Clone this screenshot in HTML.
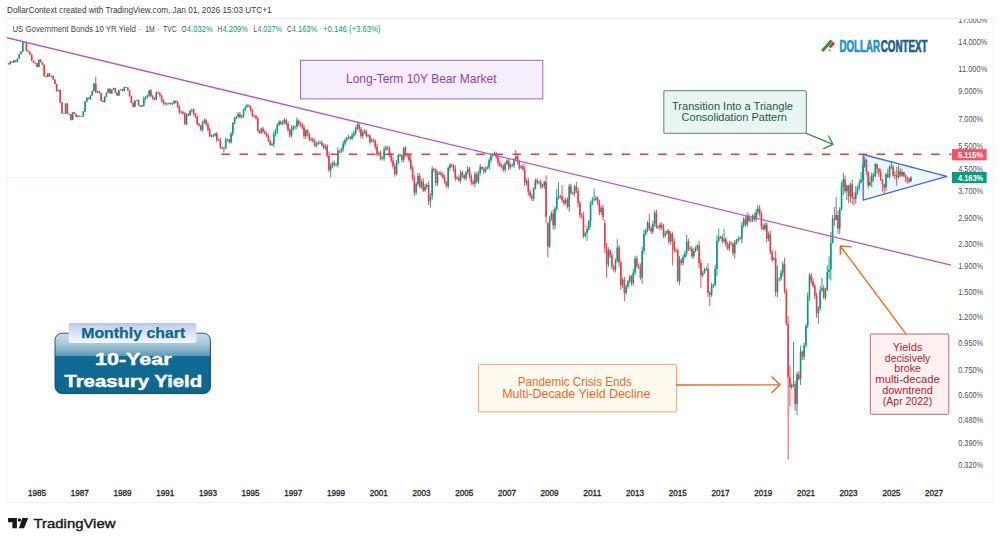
<!DOCTYPE html>
<html><head><meta charset="utf-8"><title>US 10Y Yield</title>
<style>html,body{margin:0;padding:0;background:#fff}svg{display:block}</style></head>
<body>
<svg width="1000" height="544" viewBox="0 0 1000 544" font-family="'Liberation Sans', sans-serif">
<defs>
<linearGradient id="gb" x1="0" y1="0" x2="0" y2="1">
<stop offset="0" stop-color="#c9dde6"/><stop offset="0.17" stop-color="#a9c9d8"/><stop offset="0.38" stop-color="#5e9ab6"/><stop offset="0.385" stop-color="#0f6b95"/><stop offset="1" stop-color="#0c6690"/>
</linearGradient>
<linearGradient id="gt" x1="0" y1="0" x2="0" y2="1">
<stop offset="0" stop-color="#b9c9e6"/><stop offset="0.55" stop-color="#dde6f4"/><stop offset="1" stop-color="#f4f7fc"/>
</linearGradient>
<clipPath id="cp"><rect x="7" y="19" width="986" height="483"/></clipPath>
</defs>
<rect width="1000" height="544" fill="#fff"/>
<rect x="6.5" y="18.5" width="987" height="484" fill="none" stroke="#eff0f3" stroke-width="1"/>
<text x="7" y="13.2" font-size="8.6" fill="#3a3a3a" font-weight="normal" text-anchor="start" textLength="264.5" lengthAdjust="spacingAndGlyphs">DollarContext created with TradingView.com, Jan 01, 2026 15:03 UTC+1</text>
<text x="12.4" y="31.6" font-size="8.3" fill="#45474d" font-weight="normal" text-anchor="start" textLength="123.5" lengthAdjust="spacingAndGlyphs">US Government Bonds 10 YR Yield</text>
<text x="138.3" y="31.6" font-size="8.3" fill="#45474d" font-weight="normal" text-anchor="start">·</text>
<text x="145.2" y="31.6" font-size="8.3" fill="#45474d" font-weight="normal" text-anchor="start" textLength="9.6" lengthAdjust="spacingAndGlyphs">1M</text>
<text x="157" y="31.6" font-size="8.3" fill="#45474d" font-weight="normal" text-anchor="start">·</text>
<text x="163" y="31.6" font-size="8.3" fill="#45474d" font-weight="normal" text-anchor="start" textLength="13.6" lengthAdjust="spacingAndGlyphs">TVC</text>
<text x="181.5" y="31.6" font-size="8.3" fill="#45474d" font-weight="normal" text-anchor="start" textLength="5" lengthAdjust="spacingAndGlyphs">O</text>
<text x="186.8" y="31.6" font-size="8.3" fill="#089981" font-weight="normal" text-anchor="start" textLength="26" lengthAdjust="spacingAndGlyphs">4.032%</text>
<text x="217.6" y="31.6" font-size="8.3" fill="#45474d" font-weight="normal" text-anchor="start" textLength="4.6" lengthAdjust="spacingAndGlyphs">H</text>
<text x="222.4" y="31.6" font-size="8.3" fill="#089981" font-weight="normal" text-anchor="start" textLength="25.6" lengthAdjust="spacingAndGlyphs">4.209%</text>
<text x="253.5" y="31.6" font-size="8.3" fill="#45474d" font-weight="normal" text-anchor="start" textLength="3.6" lengthAdjust="spacingAndGlyphs">L</text>
<text x="257.2" y="31.6" font-size="8.3" fill="#089981" font-weight="normal" text-anchor="start" textLength="24.9" lengthAdjust="spacingAndGlyphs">4.027%</text>
<text x="287" y="31.6" font-size="8.3" fill="#45474d" font-weight="normal" text-anchor="start" textLength="4.6" lengthAdjust="spacingAndGlyphs">C</text>
<text x="291.8" y="31.6" font-size="8.3" fill="#089981" font-weight="normal" text-anchor="start" textLength="25.3" lengthAdjust="spacingAndGlyphs">4.163%</text>
<text x="323" y="31.6" font-size="8.3" fill="#089981" font-weight="normal" text-anchor="start" textLength="57.4" lengthAdjust="spacingAndGlyphs">+0.146 (+3.63%)</text>
<g clip-path="url(#cp)">
<line x1="7" x2="951" y1="177.5" y2="177.5" stroke="#089981" stroke-opacity="0.3" stroke-width="0.5" stroke-dasharray="1 1"/>
<path d="M863.2 154.5L863.2 200.2L946.8 176.3Z" fill="#e6f5fa" fill-opacity="0.8" stroke="#3f6de8" stroke-width="1.35" stroke-linejoin="round"/>
<path d="M10.35 61.32V64.52M13.91 60.18V62.61M17.47 58.21V62.33M19.25 53.81V58.91M21.03 51.15V54.34M22.81 41.68V51.70M38.83 59.28V67.25M47.73 73.13V77.42M51.29 75.50V76.54M58.41 89.79V91.31M65.53 103.32V113.71M72.65 111.89V120.29M77.99 115.45V117.32M81.55 115.92V116.78M83.32 111.12V116.80M85.10 100.77V112.01M86.88 97.33V101.63M90.44 95.04V99.63M92.22 90.72V95.68M94.00 83.26V91.65M97.56 90.91V93.01M104.68 96.37V102.61M106.46 92.36V97.05M108.24 88.30V92.93M111.80 89.20V93.70M113.58 87.79V89.95M118.92 89.91V95.94M120.70 89.19V90.59M124.26 86.81V91.32M134.94 100.21V107.28M136.72 99.65V100.95M142.06 104.81V106.81M143.84 96.10V106.93M145.62 96.20V100.05M147.40 94.44V98.51M149.18 89.52V96.72M156.30 91.44V100.41M166.98 102.76V105.46M168.76 102.53V104.68M172.31 102.50V105.04M174.09 100.00V104.28M181.21 110.83V113.93M186.55 112.97V125.17M190.11 109.90V116.30M191.89 108.80V112.57M202.57 120.80V131.88M204.35 118.36V123.63M211.47 134.54V137.45M213.25 134.09V137.36M215.03 132.84V136.67M218.59 138.42V141.06M223.93 146.81V152.58M225.71 137.43V149.30M227.49 138.46V141.03M231.05 132.00V143.63M232.83 122.01V136.08M234.61 116.96V124.46M236.39 115.70V119.39M238.17 112.08V117.70M241.73 114.69V118.63M243.51 108.48V117.90M245.29 105.56V111.43M247.07 104.03V107.79M261.30 127.39V133.84M271.98 142.22V146.14M273.76 131.43V147.00M275.54 129.02V136.62M277.32 123.01V133.83M279.10 120.22V126.12M282.66 120.16V125.46M284.44 117.97V124.22M291.56 125.38V137.64M293.34 125.06V130.79M295.12 125.49V129.44M296.90 117.41V129.09M305.80 128.87V138.94M311.14 137.52V141.59M316.48 141.76V147.22M318.26 140.47V144.99M320.04 141.09V144.21M325.38 144.18V149.98M330.72 162.79V177.59M332.50 161.38V168.07M336.06 162.56V166.21M337.84 147.30V167.43M341.40 147.58V153.27M343.18 140.94V151.77M344.96 138.46V146.06M346.74 136.46V141.59M348.52 134.70V139.30M352.07 132.74V140.04M353.85 130.96V137.59M355.63 126.76V135.33M357.41 121.93V130.23M362.75 130.41V138.65M364.53 129.01V133.94M368.09 133.74V137.10M371.65 137.74V142.91M378.77 151.14V156.04M382.33 156.32V160.29M384.11 146.31V160.84M385.89 145.56V150.89M396.57 160.00V175.52M398.35 153.25V164.19M400.13 153.96V156.70M403.69 146.65V162.44M416.15 181.93V194.69M417.93 172.73V186.01M421.49 179.20V188.67M425.05 183.84V191.85M426.83 183.25V189.07M430.39 193.06V207.69M432.17 166.34V200.04M437.50 170.30V186.12M439.28 171.38V174.97M448.18 166.10V188.89M449.96 163.36V170.64M457.08 175.77V179.70M460.64 169.88V183.49M465.98 171.03V180.67M467.76 166.07V174.59M474.88 171.59V187.38M478.44 170.53V184.22M480.22 163.97V175.49M485.56 166.63V173.06M487.34 166.05V169.57M489.12 158.02V169.73M490.90 153.18V162.65M492.68 153.06V157.37M494.46 151.46V155.76M505.14 161.59V172.34M506.92 159.16V165.29M510.48 162.93V169.31M514.04 157.90V168.11M515.82 150.03V161.06M521.16 165.33V169.21M526.50 178.66V185.51M533.61 187.30V201.12M535.39 178.55V189.74M538.95 180.44V184.45M542.51 183.85V188.17M544.29 180.55V189.23M549.63 215.90V247.95M551.41 211.16V221.08M554.97 206.72V229.26M556.75 188.92V210.86M558.53 182.27V199.48M565.65 197.38V204.71M569.21 183.85V211.68M574.55 184.91V196.47M585.23 231.52V237.55M587.01 226.20V241.11M588.79 219.74V230.99M590.57 201.12V227.21M592.35 197.12V205.19M594.13 188.62V201.17M595.91 195.96V200.88M601.25 205.72V214.83M608.37 247.18V267.01M615.49 258.55V272.57M617.26 239.23V262.68M622.60 277.42V288.05M626.16 284.27V295.22M627.94 279.75V288.68M629.72 274.96V283.62M633.28 269.06V285.90M635.06 256.16V275.21M642.18 247.01V283.97M643.96 229.54V253.72M645.74 228.70V235.81M647.52 221.00V232.41M652.86 220.55V233.98M654.64 210.33V226.38M659.98 222.17V230.09M665.32 231.05V238.03M667.10 229.51V234.63M670.66 231.31V244.69M679.56 255.92V285.16M683.12 254.28V265.22M684.90 250.67V258.69M686.68 234.65V256.49M690.24 246.06V251.19M693.80 248.28V258.44M695.58 246.26V252.50M697.36 244.20V250.91M702.70 271.08V277.27M704.48 268.00V273.90M706.25 266.63V271.23M711.59 282.67V296.85M713.37 283.48V288.14M715.15 264.60V286.27M716.93 235.12V276.43M718.71 228.55V242.43M720.49 235.89V238.91M724.05 228.97V242.74M729.39 240.91V251.28M734.73 239.89V258.54M736.51 238.85V244.56M738.29 236.19V242.38M741.85 222.09V243.51M743.63 217.11V227.69M747.19 212.38V226.84M750.75 217.63V222.30M752.53 214.35V222.18M756.09 209.03V221.81M757.87 204.91V215.19M764.99 222.53V231.31M768.55 231.44V241.33M773.89 256.73V260.77M777.45 265.41V297.25M779.23 277.43V281.63M781.01 270.06V280.58M782.79 261.35V276.46M791.69 383.23V389.25M793.47 341.91V387.41M797.02 371.78V415.01M800.58 345.57V384.96M804.14 342.54V360.34M805.92 323.77V347.68M807.70 292.52V328.26M809.48 273.35V300.85M818.38 306.08V323.64M820.16 286.23V310.71M821.94 277.87V291.88M825.50 287.73V299.83M827.28 265.41V290.41M829.06 256.35V279.20M830.84 232.00V280.54M832.62 214.97V243.51M836.18 196.95V219.97M839.74 206.99V234.21M841.52 181.70V210.55M843.30 172.84V195.04M846.86 184.53V200.20M850.42 182.55V202.53M855.76 185.98V203.54M857.54 185.69V194.73M859.32 179.49V189.82M861.10 172.07V183.39M862.88 164.15V180.32M864.66 156.53V168.04M870.00 176.52V185.98M871.78 172.58V187.14M875.34 162.96V176.78M886.01 172.84V191.02M889.57 165.35V178.67M891.35 161.32V169.04M898.47 165.59V178.67M902.03 169.04V176.78M910.93 176.28V181.51" stroke="#089981" stroke-width="0.9" fill="none"/>
<path d="M8.57 62.90V64.44M12.13 61.34V62.58M15.69 60.15V62.29M24.59 41.84V43.20M26.37 42.53V51.22M28.15 50.37V52.12M29.93 51.43V54.86M31.71 54.14V61.17M33.49 60.53V63.22M35.27 62.62V63.47M37.05 62.81V67.40M40.61 59.26V62.49M42.39 61.84V64.80M44.17 64.26V76.58M45.95 75.98V77.36M49.51 72.96V76.61M53.07 75.64V79.73M54.85 79.10V84.26M56.63 83.61V91.67M60.19 89.40V103.22M61.97 102.10V113.55M63.75 113.01V113.71M67.31 103.32V114.19M69.09 113.59V114.52M70.87 114.00V120.64M74.43 112.04V114.21M76.21 113.57V117.15M79.77 115.30V116.69M88.66 97.41V99.45M95.78 76.76V93.17M99.34 90.91V93.61M101.12 92.81V101.23M102.90 100.32V102.33M110.02 88.18V93.85M115.36 87.73V93.15M117.14 92.43V95.99M122.48 89.03V91.28M126.04 86.84V87.74M127.82 87.18V90.73M129.60 89.91V96.66M131.38 95.78V103.36M133.16 102.57V107.31M138.50 99.76V105.67M140.28 105.11V106.98M150.96 89.13V97.21M152.74 94.88V100.07M154.52 96.77V100.32M158.08 91.32V94.35M159.86 91.81V97.06M161.64 94.77V102.28M163.42 99.16V104.84M165.20 101.72V105.39M170.54 102.50V104.90M175.87 100.27V103.55M177.65 101.00V108.21M179.43 105.21V114.12M182.99 110.48V114.76M184.77 111.79V124.89M188.33 112.96V116.42M193.67 108.20V115.84M195.45 112.99V118.09M197.23 115.49V125.18M199.01 122.93V126.60M200.79 124.81V130.91M206.13 118.74V125.87M207.91 122.70V131.40M209.69 127.44V137.28M216.81 132.06V142.12M220.37 137.62V149.01M222.15 146.50V149.37M229.27 138.81V143.26M239.95 112.02V118.50M248.85 104.45V107.59M250.63 105.52V111.68M252.41 108.69V117.24M254.19 114.43V117.10M255.97 114.98V119.67M257.75 116.48V132.27M259.52 129.61V134.32M263.08 126.74V133.24M264.86 129.75V134.86M266.64 132.46V137.34M268.42 134.21V142.04M270.20 139.90V145.90M280.88 120.44V125.16M286.22 118.48V125.81M288.00 121.38V132.20M289.78 128.20V137.53M298.68 119.27V126.18M300.46 121.69V126.90M302.24 122.67V129.56M304.02 124.73V138.76M307.58 129.18V136.59M309.36 132.61V141.24M312.92 137.16V142.78M314.70 138.52V147.00M321.82 140.29V146.63M323.60 143.18V149.27M327.16 144.11V157.90M328.94 151.69V172.29M334.28 160.27V167.00M339.62 149.62V153.07M350.29 135.82V140.09M359.19 122.65V132.21M360.97 127.08V138.32M366.31 129.45V137.86M369.87 133.99V144.52M373.43 138.64V142.66M375.21 139.08V149.41M376.99 143.42V156.52M380.55 150.66V160.45M387.67 145.57V150.30M389.45 146.47V156.88M391.23 152.67V162.87M393.01 157.76V168.76M394.79 163.78V176.69M401.91 153.87V162.19M405.47 145.99V156.77M407.25 153.09V157.62M409.03 153.10V162.13M410.81 156.38V170.44M412.59 165.89V180.45M414.37 174.78V196.36M419.71 173.49V188.59M423.27 178.33V191.95M428.61 181.31V205.08M433.95 167.66V172.48M435.73 168.15V186.18M441.06 170.77V176.47M442.84 172.78V179.23M444.62 174.81V183.96M446.40 180.77V187.70M451.74 163.69V167.49M453.52 164.09V171.74M455.30 165.29V181.20M458.86 175.45V182.14M462.42 170.62V178.10M464.20 173.97V179.87M469.54 166.87V178.74M471.32 173.50V184.94M473.10 179.57V185.47M476.66 171.84V183.31M482.00 165.93V170.27M483.78 167.12V174.12M496.24 151.76V159.12M498.02 154.86V166.12M499.80 160.59V167.15M501.58 163.96V168.22M503.36 164.30V171.70M508.70 158.55V170.36M512.26 163.41V166.78M517.60 154.08V164.69M519.38 159.82V170.24M522.94 163.86V171.17M524.72 165.52V185.80M528.27 177.72V195.40M530.05 189.25V197.94M531.83 194.01V200.92M537.17 178.17V184.61M540.73 179.29V189.17M546.07 175.30V222.84M547.85 221.98V257.44M553.19 209.51V229.61M560.31 194.71V198.77M562.09 185.11V202.74M563.87 198.39V205.62M567.43 197.25V208.71M570.99 183.96V194.97M572.77 191.63V194.64M576.33 181.70V192.91M578.11 187.72V207.00M579.89 200.92V217.95M581.67 213.16V218.16M583.45 211.77V238.18M597.69 196.48V205.41M599.47 199.88V215.26M603.03 204.41V220.45M604.81 219.85V253.34M606.59 242.98V277.87M610.15 248.84V258.05M611.93 252.52V269.22M613.71 264.65V272.37M619.04 244.90V267.13M620.82 260.24V289.93M624.38 276.53V301.24M631.50 274.72V285.65M636.84 255.49V268.52M638.62 263.60V269.20M640.40 263.36V280.31M649.30 213.85V230.85M651.08 225.81V233.79M656.42 209.53V228.79M658.20 225.18V228.96M661.76 222.40V229.91M663.54 223.85V237.89M668.88 229.03V243.79M672.44 231.58V265.41M674.22 238.33V252.25M676.00 248.80V252.51M677.78 248.49V281.90M681.34 258.01V265.47M688.46 238.83V251.13M692.02 246.51V258.67M699.14 241.14V268.23M700.92 259.74V288.22M708.03 263.19V296.72M709.81 290.92V306.22M722.27 234.47V243.44M725.83 237.21V246.66M727.61 241.74V250.19M731.17 241.14V245.10M732.95 242.06V255.76M740.07 236.36V240.43M745.41 216.32V226.61M748.97 213.48V223.11M754.31 212.88V221.82M759.65 205.25V216.58M761.43 211.31V230.17M763.21 224.20V230.52M766.77 222.43V242.29M770.33 230.73V254.04M772.11 249.83V262.03M775.67 250.70V296.47M784.57 257.69V293.59M786.35 288.62V325.64M788.13 315.76V459.55M789.91 365.18V406.38M795.24 380.89V410.83M798.80 371.05V380.80M802.36 350.39V360.03M811.26 272.93V283.83M813.04 278.16V287.86M814.82 283.60V299.25M816.60 292.68V317.86M823.72 285.28V299.27M834.40 206.99V226.03M837.96 210.55V233.76M845.08 175.46V193.17M848.64 184.82V202.86M852.20 179.49V204.22M853.98 192.55V205.25M866.44 158.56V175.19M868.22 171.30V188.32M873.56 172.58V181.15M877.12 163.91V173.62M878.90 168.54V176.78M880.68 168.79V181.15M882.45 179.22V191.63M884.23 183.96V193.79M887.79 168.79V177.86M893.13 164.87V176.78M894.91 171.30V179.22M896.69 166.57V185.69M900.25 167.55V177.05M903.81 171.81V177.05M905.59 174.14V182.27M907.37 176.78V183.68M909.15 177.59V183.11" stroke="#f23645" stroke-width="0.9" fill="none"/>
<path d="M10.35 61.62V64.23M13.91 60.57V62.38M17.47 58.50V62.00M19.25 54.03V58.50M21.03 51.47V54.03M22.81 42.32V51.47M38.83 59.72V66.91M47.73 73.41V76.98M51.29 75.70V76.50M58.41 90.12V91.11M65.53 103.61V113.50M72.65 112.29V120.08M77.99 115.65V116.90M81.55 115.95V116.75M83.32 111.39V116.27M85.10 101.41V111.39M86.88 97.65V101.41M90.44 95.43V99.11M92.22 91.11V95.43M94.00 83.53V91.11M97.56 91.24V92.62M104.68 96.60V102.09M106.46 92.74V96.60M108.24 88.65V92.74M111.80 89.63V93.38M113.58 88.04V89.63M118.92 90.37V95.56M120.70 89.38V90.37M124.26 87.20V90.99M134.94 100.73V106.86M136.72 99.99V100.79M142.06 105.15V106.57M143.84 98.44V105.15M145.62 97.39V98.44M147.40 95.56V97.39M149.18 90.61V95.56M156.30 92.87V99.38M166.98 103.42V104.22M168.76 103.14V103.94M172.31 103.35V104.15M174.09 101.00V103.47M181.21 111.74V112.54M186.55 114.42V124.02M190.11 110.95V115.03M191.89 109.91V110.95M202.57 122.52V129.84M204.35 120.08V122.52M211.47 135.59V136.39M213.25 135.40V136.20M215.03 133.60V135.62M218.59 139.66V140.46M223.93 147.64V148.44M225.71 139.77V147.73M227.49 139.37V140.17M231.05 133.78V142.30M232.83 123.02V133.78M234.61 118.32V123.02M236.39 116.59V118.32M238.17 113.96V116.59M241.73 116.27V117.37M243.51 109.76V116.27M245.29 107.00V109.76M247.07 105.58V107.00M261.30 128.44V132.69M271.98 144.08V144.88M273.76 134.15V144.28M275.54 130.37V134.15M277.32 124.85V130.37M279.10 121.70V124.85M282.66 122.52V123.68M284.44 119.92V122.52M291.56 128.79V135.43M293.34 127.06V128.79M295.12 126.41V127.21M296.90 120.56V126.55M305.80 130.37V136.18M311.14 138.99V139.79M316.48 143.88V145.69M318.26 142.89V143.88M320.04 142.39V143.19M325.38 146.30V147.53M330.72 165.35V170.29M332.50 162.96V165.35M336.06 164.59V165.39M337.84 150.66V164.87M341.40 149.19V151.51M343.18 143.48V149.19M344.96 140.15V143.48M346.74 138.05V140.15M348.52 136.92V138.05M352.07 135.43V138.43M353.85 133.24V135.43M355.63 128.44V133.24M357.41 124.52V128.44M362.75 132.33V135.99M364.53 131.26V132.33M368.09 135.50V136.30M371.65 140.35V141.71M378.77 152.80V154.32M382.33 158.27V159.07M384.11 149.40V158.56M385.89 147.73V149.40M396.57 162.02V173.88M398.35 155.42V162.02M400.13 155.02V155.82M403.69 147.94V159.70M416.15 183.96V192.86M417.93 175.98V183.96M421.49 181.98V186.85M425.05 186.85V190.42M426.83 185.11V186.85M430.39 195.67V201.19M432.17 169.04V195.67M437.50 173.10V183.11M439.28 172.57V173.37M448.18 168.04V185.98M449.96 164.87V168.04M457.08 177.87V178.67M460.64 172.33V180.59M465.98 172.33V178.13M467.76 168.79V172.33M474.88 174.40V183.68M478.44 172.84V181.43M480.22 167.06V172.84M485.56 168.04V171.56M487.34 167.39V168.19M489.12 160.16V167.55M490.90 155.42V160.16M492.68 154.32V155.42M494.46 153.59V154.39M505.14 163.67V169.79M506.92 160.86V163.67M510.48 165.11V167.30M514.04 159.24V165.59M515.82 156.31V159.24M521.16 166.57V167.79M526.50 180.87V182.83M533.61 188.62V198.56M535.39 180.32V188.62M538.95 181.87V182.67M542.51 186.16V186.96M544.29 181.70V186.27M549.63 219.19V246.46M551.41 213.48V219.19M554.97 208.40V225.61M556.75 197.91V208.40M558.53 195.99V197.91M565.65 199.87V203.20M569.21 186.27V206.64M574.55 186.56V193.48M585.23 233.32V236.01M587.01 228.97V233.32M588.79 221.55V228.97M590.57 203.54V221.55M592.35 199.54V203.54M594.13 199.14V199.94M595.91 197.91V199.54M601.25 207.69V212.37M608.37 250.52V264.23M615.49 260.78V269.61M617.26 247.46V260.78M622.60 279.87V285.37M626.16 286.79V292.65M627.94 281.22V286.79M629.72 276.56V281.22M633.28 272.72V283.27M635.06 258.54V272.72M642.18 251.03V277.87M643.96 233.76V251.03M645.74 230.26V233.76M647.52 222.76V230.26M652.86 223.97V231.56M654.64 212.74V223.97M659.98 224.79V227.70M665.32 233.32V235.55M667.10 231.12V233.32M670.66 233.76V241.59M679.56 259.66V281.22M683.12 256.89V263.07M684.90 253.13V256.89M686.68 241.59V253.13M690.24 248.32V249.12M693.80 251.03V256.35M695.58 248.47V251.03M697.36 245.47V248.47M702.70 272.72V275.26M704.48 269.61V272.72M706.25 268.91V269.71M711.59 286.07V294.93M713.37 284.66V286.07M715.15 269.00V284.66M716.93 240.64V269.00M718.71 236.92V240.64M720.49 236.52V237.32M724.05 239.23V241.11M729.39 243.51V248.47M734.73 242.54V253.13M736.51 240.17V242.54M738.29 238.30V240.17M741.85 225.20V238.76M743.63 219.19V225.20M747.19 216.11V224.38M750.75 219.96V220.76M752.53 215.73V219.97M756.09 212.37V219.58M757.87 208.75V212.37M764.99 224.79V228.97M768.55 234.21V238.76M773.89 258.54V259.66M777.45 279.20V291.90M779.23 278.46V279.26M781.01 272.72V278.53M782.79 264.23V272.72M791.69 385.61V387.34M793.47 383.90V385.61M797.02 374.14V404.33M800.58 351.66V378.91M804.14 345.47V356.87M805.92 325.64V345.47M807.70 296.47V325.64M809.48 275.26V296.47M818.38 307.93V313.23M820.16 290.41V307.93M821.94 288.22V290.41M825.50 290.41V297.25M827.28 272.09V290.41M829.06 269.61V272.09M830.84 243.03V269.61M832.62 218.41V243.03M836.18 214.97V219.97M839.74 209.47V228.55M841.52 186.85V209.47M843.30 179.22V186.85M846.86 185.40V191.33M850.42 184.25V196.31M855.76 192.55V198.89M857.54 187.44V192.55M859.32 182.83V187.44M861.10 179.49V182.83M862.88 166.57V179.49M864.66 159.70V166.57M870.00 182.27V185.40M871.78 175.19V182.27M875.34 164.15V176.52M886.01 174.40V187.44M889.57 166.81V177.05M891.35 166.41V167.21M898.47 171.05V177.32M902.03 172.07V175.46M910.93 177.51V181.51" stroke="#089981" stroke-width="1.6" fill="none"/>
<path d="M8.57 63.11V64.23M12.13 61.60V62.40M15.69 60.57V62.00M24.59 42.21V43.01M26.37 42.89V50.68M28.15 50.68V51.73M29.93 51.73V54.57M31.71 54.57V60.85M33.49 60.85V62.87M35.27 62.61V63.41M37.05 63.16V66.91M40.61 59.72V62.19M42.39 62.19V64.52M44.17 64.52V76.21M45.95 76.19V76.99M49.51 73.41V76.32M53.07 75.88V79.42M54.85 79.42V84.00M56.63 84.00V91.11M60.19 90.12V102.50M61.97 102.50V113.20M63.75 112.95V113.75M67.31 103.61V113.81M69.09 113.64V114.44M70.87 114.26V120.08M74.43 112.29V113.96M76.21 113.96V116.90M79.77 115.64V116.44M88.66 97.65V99.11M95.78 83.53V92.62M99.34 91.24V93.25M101.12 93.25V100.73M102.90 100.73V102.09M110.02 88.65V93.38M115.36 88.04V92.74M117.14 92.74V95.56M122.48 89.38V90.99M126.04 86.92V87.72M127.82 87.44V90.37M129.60 90.37V96.21M131.38 96.21V102.92M133.16 102.92V106.86M138.50 100.05V105.44M140.28 105.44V106.57M150.96 90.61V96.21M152.74 96.21V98.44M154.52 98.44V99.38M158.08 92.72V93.52M159.86 93.38V95.56M161.64 95.56V100.73M163.42 100.73V103.20M165.20 103.14V103.94M170.54 103.28V104.08M175.87 101.00V102.23M177.65 102.23V106.86M179.43 106.86V112.29M182.99 111.99V113.35M184.77 113.35V124.02M188.33 114.33V115.13M193.67 109.91V114.11M195.45 114.11V117.05M197.23 117.05V123.85M199.01 123.85V125.53M200.79 125.53V129.84M206.13 120.08V124.18M207.91 124.18V129.49M209.69 129.49V135.99M216.81 133.60V140.35M220.37 139.77V147.32M222.15 147.32V148.35M229.27 139.77V142.30M239.95 113.96V117.37M248.85 105.58V106.57M250.63 106.57V110.06M252.41 110.06V115.81M254.19 115.56V116.36M255.97 116.12V118.16M257.75 118.16V131.08M259.52 131.08V132.69M263.08 128.44V131.44M264.86 131.44V133.42M266.64 133.42V135.99M268.42 135.99V141.12M270.20 141.12V144.68M280.88 121.70V123.68M286.22 119.92V123.85M288.00 123.85V129.84M289.78 129.84V135.43M298.68 120.56V123.85M300.46 123.85V124.69M302.24 124.69V127.41M304.02 127.41V136.18M307.58 130.37V134.33M309.36 134.33V139.58M312.92 139.19V141.32M314.70 141.32V145.69M321.82 142.69V145.08M323.60 145.08V147.53M327.16 146.30V155.86M328.94 155.86V170.29M334.28 162.96V165.11M339.62 150.66V151.51M350.29 136.92V138.43M359.19 124.52V128.97M360.97 128.97V135.99M366.31 131.26V135.99M369.87 135.80V141.71M373.43 140.24V141.04M375.21 140.93V146.71M376.99 146.71V154.32M380.55 152.80V158.79M387.67 147.44V148.24M389.45 147.94V155.42M391.23 155.42V160.39M393.01 160.39V166.32M394.79 166.32V173.88M401.91 155.42V159.70M405.47 147.94V154.54M407.25 154.47V155.27M409.03 155.20V160.16M410.81 160.16V168.54M412.59 168.54V178.13M414.37 178.13V192.86M419.71 175.98V186.85M423.27 181.98V190.42M428.61 185.11V201.19M433.95 169.04V170.04M435.73 170.04V183.11M441.06 172.84V174.66M442.84 174.66V177.59M444.62 177.59V182.27M446.40 182.27V185.98M451.74 164.87V165.84M453.52 165.84V168.79M455.30 168.79V178.40M458.86 178.13V180.59M462.42 172.33V175.46M464.20 175.46V178.13M469.54 168.79V176.25M471.32 176.25V181.98M473.10 181.98V183.68M476.66 174.40V181.43M482.00 167.06V169.04M483.78 169.04V171.56M496.24 153.67V157.20M498.02 157.20V162.96M499.80 162.96V165.35M501.58 165.32V166.12M503.36 166.08V169.79M508.70 160.86V167.30M512.26 164.95V165.75M517.60 156.31V162.02M519.38 162.02V167.79M522.94 166.57V169.29M524.72 169.29V182.83M528.27 180.87V191.63M530.05 191.63V195.99M531.83 195.99V198.56M537.17 180.32V182.27M540.73 182.27V186.85M546.07 181.70V216.87M547.85 223.57V246.46M553.19 213.48V225.61M560.31 195.75V196.55M562.09 196.31V200.20M563.87 200.20V203.20M567.43 199.87V206.64M570.99 186.27V192.86M572.77 192.77V193.57M576.33 186.56V191.02M578.11 191.02V203.20M579.89 203.20V215.35M581.67 215.35V216.49M583.45 216.49V236.01M597.69 197.91V202.86M599.47 202.86V212.37M603.03 207.69V217.25M604.81 223.16V247.46M606.59 247.46V264.23M610.15 250.52V255.26M611.93 255.26V266.59M613.71 266.59V269.61M619.04 247.46V262.50M620.82 262.50V285.37M624.38 279.87V292.65M631.50 276.56V283.27M636.84 258.54V266.00M638.62 266.00V267.19M640.40 267.19V277.87M649.30 222.76V228.55M651.08 228.55V231.56M656.42 212.74V227.28M658.20 227.09V227.89M661.76 224.79V227.28M663.54 227.28V235.55M668.88 231.12V241.59M672.44 233.76V241.59M674.22 241.59V250.00M676.00 249.86V250.66M677.78 250.52V281.22M681.34 259.66V263.07M688.46 241.59V248.98M692.02 248.47V256.35M699.14 245.47V263.07M700.92 263.07V275.26M708.03 269.00V292.65M709.81 292.65V294.93M722.27 236.92V241.11M725.83 239.23V244.49M727.61 244.49V248.47M731.17 243.35V244.15M732.95 244.00V253.13M740.07 238.13V238.93M745.41 219.19V224.38M748.97 216.11V220.76M754.31 215.73V219.58M759.65 208.75V213.85M761.43 213.85V226.44M763.21 226.44V228.97M766.77 224.79V238.76M770.33 234.21V252.08M772.11 252.08V259.66M775.67 258.54V291.90M784.57 264.23V291.15M786.35 291.15V323.64M788.13 323.64V377.30M789.91 377.30V387.34M795.24 383.90V404.33M798.80 374.14V378.91M802.36 351.66V356.87M811.26 275.26V281.22M813.04 281.22V286.07M814.82 286.07V295.70M816.60 295.70V313.23M823.72 288.22V297.25M834.40 218.41V219.97M837.96 214.97V228.55M845.08 179.22V191.33M848.64 185.40V196.31M852.20 184.25V197.59M853.98 197.59V198.89M866.44 159.70V172.07M868.22 172.07V185.40M873.56 175.19V176.52M877.12 164.15V168.54M878.90 168.54V172.33M880.68 172.33V179.49M882.45 179.49V184.53M884.23 184.53V187.44M887.79 174.40V177.05M893.13 166.81V175.46M894.91 175.19V175.99M896.69 175.72V177.32M900.25 171.05V175.46M903.81 172.07V175.72M905.59 175.72V177.86M907.37 177.86V179.22M909.15 179.22V181.51" stroke="#f23645" stroke-width="1.6" fill="none"/>
<line x1="6.5" y1="37.6" x2="951" y2="265.2" stroke="#b558d2" stroke-width="1.3"/>
<line x1="221.3" x2="951.5" y1="154.2" y2="154.2" stroke="#f23645" stroke-width="1.45" stroke-dasharray="8.6 9.6"/>
</g>
<g clip-path="url(#cp)">
<text x="958.3" y="22.9" font-size="8.8" fill="#4d505a" font-weight="normal" text-anchor="start" textLength="29" lengthAdjust="spacingAndGlyphs">17.000%</text>
<text x="958.3" y="44.7" font-size="8.8" fill="#4d505a" font-weight="normal" text-anchor="start" textLength="29" lengthAdjust="spacingAndGlyphs">14.000%</text>
<text x="958.3" y="71.7" font-size="8.8" fill="#4d505a" font-weight="normal" text-anchor="start" textLength="29" lengthAdjust="spacingAndGlyphs">11.000%</text>
<text x="958.3" y="94.2" font-size="8.8" fill="#4d505a" font-weight="normal" text-anchor="start" textLength="24.7" lengthAdjust="spacingAndGlyphs">9.000%</text>
<text x="958.3" y="122.4" font-size="8.8" fill="#4d505a" font-weight="normal" text-anchor="start" textLength="24.7" lengthAdjust="spacingAndGlyphs">7.000%</text>
<text x="958.3" y="149.4" font-size="8.8" fill="#4d505a" font-weight="normal" text-anchor="start" textLength="24.7" lengthAdjust="spacingAndGlyphs">5.500%</text>
<text x="958.3" y="171.9" font-size="8.8" fill="#4d505a" font-weight="normal" text-anchor="start" textLength="24.7" lengthAdjust="spacingAndGlyphs">4.500%</text>
<text x="958.3" y="193.8" font-size="8.8" fill="#4d505a" font-weight="normal" text-anchor="start" textLength="24.7" lengthAdjust="spacingAndGlyphs">3.700%</text>
<text x="958.3" y="221.1" font-size="8.8" fill="#4d505a" font-weight="normal" text-anchor="start" textLength="24.7" lengthAdjust="spacingAndGlyphs">2.900%</text>
<text x="958.3" y="247.1" font-size="8.8" fill="#4d505a" font-weight="normal" text-anchor="start" textLength="24.7" lengthAdjust="spacingAndGlyphs">2.300%</text>
<text x="958.3" y="268.5" font-size="8.8" fill="#4d505a" font-weight="normal" text-anchor="start" textLength="24.7" lengthAdjust="spacingAndGlyphs">1.900%</text>
<text x="958.3" y="295.0" font-size="8.8" fill="#4d505a" font-weight="normal" text-anchor="start" textLength="24.7" lengthAdjust="spacingAndGlyphs">1.500%</text>
<text x="958.3" y="320.0" font-size="8.8" fill="#4d505a" font-weight="normal" text-anchor="start" textLength="24.7" lengthAdjust="spacingAndGlyphs">1.200%</text>
<text x="958.3" y="346.2" font-size="8.8" fill="#4d505a" font-weight="normal" text-anchor="start" textLength="24.7" lengthAdjust="spacingAndGlyphs">0.950%</text>
<text x="958.3" y="372.7" font-size="8.8" fill="#4d505a" font-weight="normal" text-anchor="start" textLength="24.7" lengthAdjust="spacingAndGlyphs">0.750%</text>
<text x="958.3" y="397.7" font-size="8.8" fill="#4d505a" font-weight="normal" text-anchor="start" textLength="24.7" lengthAdjust="spacingAndGlyphs">0.600%</text>
<text x="958.3" y="422.7" font-size="8.8" fill="#4d505a" font-weight="normal" text-anchor="start" textLength="24.7" lengthAdjust="spacingAndGlyphs">0.480%</text>
<text x="958.3" y="445.9" font-size="8.8" fill="#4d505a" font-weight="normal" text-anchor="start" textLength="24.7" lengthAdjust="spacingAndGlyphs">0.390%</text>
<text x="958.3" y="468.1" font-size="8.8" fill="#4d505a" font-weight="normal" text-anchor="start" textLength="24.7" lengthAdjust="spacingAndGlyphs">0.320%</text>
</g>
<rect x="952" y="149.1" width="34.6" height="11.2" fill="#f5535f"/>
<text x="958" y="158.1" font-size="9.4" fill="#fff" font-weight="bold" text-anchor="start" textLength="25.2" lengthAdjust="spacingAndGlyphs">5.115%</text>
<rect x="952" y="172" width="34.6" height="11.2" fill="#0a9a80"/>
<text x="958" y="181" font-size="9.4" fill="#fff" font-weight="bold" text-anchor="start" textLength="25.2" lengthAdjust="spacingAndGlyphs">4.163%</text>
<text x="37.0" y="496" font-size="8.3" fill="#1e2026" font-weight="normal" text-anchor="middle" textLength="18" lengthAdjust="spacingAndGlyphs" stroke="#1e2026" stroke-width="0.3">1985</text>
<text x="79.8" y="496" font-size="8.3" fill="#1e2026" font-weight="normal" text-anchor="middle" textLength="18" lengthAdjust="spacingAndGlyphs" stroke="#1e2026" stroke-width="0.3">1987</text>
<text x="122.5" y="496" font-size="8.3" fill="#1e2026" font-weight="normal" text-anchor="middle" textLength="18" lengthAdjust="spacingAndGlyphs" stroke="#1e2026" stroke-width="0.3">1989</text>
<text x="165.2" y="496" font-size="8.3" fill="#1e2026" font-weight="normal" text-anchor="middle" textLength="18" lengthAdjust="spacingAndGlyphs" stroke="#1e2026" stroke-width="0.3">1991</text>
<text x="207.9" y="496" font-size="8.3" fill="#1e2026" font-weight="normal" text-anchor="middle" textLength="18" lengthAdjust="spacingAndGlyphs" stroke="#1e2026" stroke-width="0.3">1993</text>
<text x="250.6" y="496" font-size="8.3" fill="#1e2026" font-weight="normal" text-anchor="middle" textLength="18" lengthAdjust="spacingAndGlyphs" stroke="#1e2026" stroke-width="0.3">1995</text>
<text x="293.3" y="496" font-size="8.3" fill="#1e2026" font-weight="normal" text-anchor="middle" textLength="18" lengthAdjust="spacingAndGlyphs" stroke="#1e2026" stroke-width="0.3">1997</text>
<text x="336.1" y="496" font-size="8.3" fill="#1e2026" font-weight="normal" text-anchor="middle" textLength="18" lengthAdjust="spacingAndGlyphs" stroke="#1e2026" stroke-width="0.3">1999</text>
<text x="378.8" y="496" font-size="8.3" fill="#1e2026" font-weight="normal" text-anchor="middle" textLength="18" lengthAdjust="spacingAndGlyphs" stroke="#1e2026" stroke-width="0.3">2001</text>
<text x="421.5" y="496" font-size="8.3" fill="#1e2026" font-weight="normal" text-anchor="middle" textLength="18" lengthAdjust="spacingAndGlyphs" stroke="#1e2026" stroke-width="0.3">2003</text>
<text x="464.2" y="496" font-size="8.3" fill="#1e2026" font-weight="normal" text-anchor="middle" textLength="18" lengthAdjust="spacingAndGlyphs" stroke="#1e2026" stroke-width="0.3">2005</text>
<text x="506.9" y="496" font-size="8.3" fill="#1e2026" font-weight="normal" text-anchor="middle" textLength="18" lengthAdjust="spacingAndGlyphs" stroke="#1e2026" stroke-width="0.3">2007</text>
<text x="549.6" y="496" font-size="8.3" fill="#1e2026" font-weight="normal" text-anchor="middle" textLength="18" lengthAdjust="spacingAndGlyphs" stroke="#1e2026" stroke-width="0.3">2009</text>
<text x="592.3" y="496" font-size="8.3" fill="#1e2026" font-weight="normal" text-anchor="middle" textLength="18" lengthAdjust="spacingAndGlyphs" stroke="#1e2026" stroke-width="0.3">2011</text>
<text x="635.1" y="496" font-size="8.3" fill="#1e2026" font-weight="normal" text-anchor="middle" textLength="18" lengthAdjust="spacingAndGlyphs" stroke="#1e2026" stroke-width="0.3">2013</text>
<text x="677.8" y="496" font-size="8.3" fill="#1e2026" font-weight="normal" text-anchor="middle" textLength="18" lengthAdjust="spacingAndGlyphs" stroke="#1e2026" stroke-width="0.3">2015</text>
<text x="720.5" y="496" font-size="8.3" fill="#1e2026" font-weight="normal" text-anchor="middle" textLength="18" lengthAdjust="spacingAndGlyphs" stroke="#1e2026" stroke-width="0.3">2017</text>
<text x="763.2" y="496" font-size="8.3" fill="#1e2026" font-weight="normal" text-anchor="middle" textLength="18" lengthAdjust="spacingAndGlyphs" stroke="#1e2026" stroke-width="0.3">2019</text>
<text x="805.9" y="496" font-size="8.3" fill="#1e2026" font-weight="normal" text-anchor="middle" textLength="18" lengthAdjust="spacingAndGlyphs" stroke="#1e2026" stroke-width="0.3">2021</text>
<text x="848.6" y="496" font-size="8.3" fill="#1e2026" font-weight="normal" text-anchor="middle" textLength="18" lengthAdjust="spacingAndGlyphs" stroke="#1e2026" stroke-width="0.3">2023</text>
<text x="891.4" y="496" font-size="8.3" fill="#1e2026" font-weight="normal" text-anchor="middle" textLength="18" lengthAdjust="spacingAndGlyphs" stroke="#1e2026" stroke-width="0.3">2025</text>
<text x="934.1" y="496" font-size="8.3" fill="#1e2026" font-weight="normal" text-anchor="middle" textLength="18" lengthAdjust="spacingAndGlyphs" stroke="#1e2026" stroke-width="0.3">2027</text>
<rect x="300.5" y="60.3" width="242.3" height="38.6" fill="#f7eefb" stroke="#a266c8" stroke-width="1"/>
<text x="346" y="83.4" font-size="13" fill="#9b3cb9" font-weight="normal" text-anchor="start" textLength="150.5" lengthAdjust="spacingAndGlyphs">Long-Term 10Y Bear Market</text>
<rect x="663.8" y="90.7" width="142.5" height="42.6" rx="1.2" fill="#e8f5f2" stroke="#4a7c66" stroke-width="0.9"/>
<text x="672" y="110" font-size="11" fill="#1f5a44" font-weight="normal" text-anchor="start" textLength="121" lengthAdjust="spacingAndGlyphs">Transition Into a Triangle</text>
<text x="681.6" y="120.6" font-size="11" fill="#1f5a44" font-weight="normal" text-anchor="start" textLength="105.4" lengthAdjust="spacingAndGlyphs">Consolidation Pattern</text>
<path d="M806.3 133.4L833 144.4M828.6 136L833 144.4L823.6 148.6" fill="none" stroke="#3b8f40" stroke-width="1.25" stroke-linecap="round" stroke-linejoin="round"/>
<rect x="478.4" y="364.3" width="198.2" height="47.6" rx="1.2" fill="#fff9ef" stroke="#f7a070" stroke-width="1"/>
<text x="517.8" y="385.6" font-size="12.3" fill="#f2691c" font-weight="normal" text-anchor="start" textLength="114" lengthAdjust="spacingAndGlyphs">Pandemic Crisis Ends</text>
<text x="502.3" y="398.2" font-size="12.3" fill="#f2691c" font-weight="normal" text-anchor="start" textLength="148" lengthAdjust="spacingAndGlyphs">Multi-Decade Yield Decline</text>
<path d="M676.6 385L780 384.8M772 377L780 384.8L772 392.6" fill="none" stroke="#ee6a16" stroke-width="1.35" stroke-linecap="round" stroke-linejoin="round"/>
<rect x="870.3" y="334" width="78.5" height="80.3" rx="1" fill="#fdf0f1" stroke="#b85a66" stroke-width="0.9"/>
<text x="907.6" y="350.8" font-size="11" fill="#b0232f" font-weight="normal" text-anchor="middle" textLength="29.5" lengthAdjust="spacingAndGlyphs">Yields</text>
<text x="907.6" y="361.6" font-size="11" fill="#b0232f" font-weight="normal" text-anchor="middle" textLength="45.5" lengthAdjust="spacingAndGlyphs">decisively</text>
<text x="907.6" y="372.4" font-size="11" fill="#b0232f" font-weight="normal" text-anchor="middle" textLength="26.5" lengthAdjust="spacingAndGlyphs">broke</text>
<text x="907.6" y="383.2" font-size="11" fill="#b0232f" font-weight="normal" text-anchor="middle" textLength="64.5" lengthAdjust="spacingAndGlyphs">multi-decade</text>
<text x="907.6" y="394.0" font-size="11" fill="#b0232f" font-weight="normal" text-anchor="middle" textLength="50.5" lengthAdjust="spacingAndGlyphs">downtrend</text>
<text x="907.6" y="404.8" font-size="11" fill="#b0232f" font-weight="normal" text-anchor="middle" textLength="49.5" lengthAdjust="spacingAndGlyphs">(Apr 2022)</text>
<path d="M905.9 333.8L840.3 246M840.3 254.6L840.3 246L851.3 246.9" fill="none" stroke="#ee6a16" stroke-width="1.35" stroke-linecap="round" stroke-linejoin="round"/>
<rect x="55.3" y="334.2" width="155.6" height="60" rx="7" fill="#083f5c" opacity="0.35"/>
<rect x="55" y="333.2" width="155.4" height="60.2" rx="7" fill="url(#gb)" stroke="#0a4a6b" stroke-width="0.9"/>
<rect x="68.7" y="323" width="127.8" height="20" rx="2.5" fill="url(#gt)"/>
<text x="133.2" y="338.3" font-size="14.5" fill="#0f6892" font-weight="bold" text-anchor="middle" textLength="104" lengthAdjust="spacingAndGlyphs" stroke="#0f6892" stroke-width="0.25">Monthly chart</text>
<text x="133.3" y="365.2" font-size="17" fill="#fff" font-weight="bold" text-anchor="middle" textLength="76.5" lengthAdjust="spacingAndGlyphs" stroke="#fff" stroke-width="0.45">10-Year</text>
<text x="133.3" y="387.3" font-size="17" fill="#fff" font-weight="bold" text-anchor="middle" textLength="137.7" lengthAdjust="spacingAndGlyphs" stroke="#fff" stroke-width="0.45">Treasury Yield</text>
<path d="M822.2 50.9L831.6 40.4" stroke="#3f8f2a" stroke-width="3" stroke-linecap="butt"/>
<path d="M829.6 47.4L834 42.6" stroke="#e8202a" stroke-width="2.6"/>
<circle cx="829.6" cy="50.2" r="1.6" fill="#8fd0ef"/>
<text x="839.6" y="51.5" font-size="15.6" fill="#1b8fd8" font-weight="bold" text-anchor="start" textLength="40.3" lengthAdjust="spacingAndGlyphs" stroke="#1b8fd8" stroke-width="0.7">DOLLAR</text>
<text x="880.8" y="51.5" font-size="15.6" fill="#15618c" font-weight="bold" text-anchor="start" textLength="46.6" lengthAdjust="spacingAndGlyphs" stroke="#15618c" stroke-width="0.7">CONTEXT</text>
<path d="M8.1 518.1H16.9V528.2H12.4V522.3H8.1Z" fill="#16181d"/>
<circle cx="19.4" cy="520" r="1.75" fill="#16181d"/>
<path d="M22.3 518.1H28.2L24 528.2H18.9Z" fill="#16181d"/>
<text x="33.6" y="527.9" font-size="13.2" fill="#16181d" font-weight="normal" text-anchor="start" textLength="81.8" lengthAdjust="spacingAndGlyphs" stroke="#16181d" stroke-width="0.4">TradingView</text>
</svg>
</body></html>
